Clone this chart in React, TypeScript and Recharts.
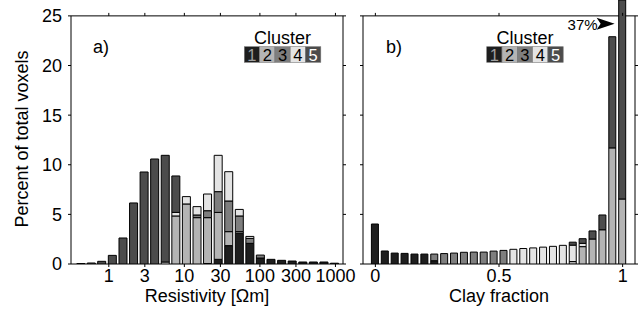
import { BarChart, Bar, XAxis, YAxis, ReferenceArea, ReferenceLine, ReferenceDot } from "recharts";

const FONT = "'Liberation Sans', Arial, Helvetica, sans-serif";

const clusterNames = ["1", "2", "3", "4", "5"];
const clusterColors = ["#1e1e1e", "#b4b4b4", "#7e7e7e", "#e4e4e4", "#4c4c4c"];
const clusterInk = ["#a0a0a0", "#000", "#000", "#000", "#fff"];

const yTicks = [0, 5, 10, 15, 20, 25];

// a) resistivity bins, bin centres in ohm m (log spaced)
const ohmBins = [0.43, 0.59, 0.81, 1.12, 1.55, 2.14, 2.95, 4.07, 5.62, 7.76, 10.7, 14.8, 20.4, 28.2, 38.9, 53.7, 74.1, 102, 141, 195, 269, 372, 513, 708, 977];
const ohmTicks = [1, 3, 10, 30, 100, 300, 1000];
const ohmC1 = [0, 0, 0, 0, 0, 0, 0, 0, 0, 0, 0, 0, 0.05, 0.47, 1.85, 3.1, 2.08, 0.6, 0.47, 0.37, 0.3, 0.2, 0.2, 0.2, 0.08];
const ohmC2 = [0, 0, 0, 0, 0, 0, 0, 0, 0, 4.84, 6.05, 4.67, 4.62, 4.73, 1.41, 0.16, 0, 0, 0, 0, 0, 0, 0, 0, 0];
const ohmC3 = [0, 0, 0, 0, 0, 0, 0, 0, 0, 0, 0, 0.27, 0.7, 2.09, 3.09, 1.58, 0.5, 0.3, 0, 0, 0, 0, 0, 0, 0];
const ohmC4 = [0, 0, 0, 0, 0, 0, 0, 0, 0.2, 0.36, 0.74, 0.84, 1.68, 3.66, 2.95, 0.66, 0.2, 0, 0, 0, 0, 0, 0, 0, 0];
const ohmC5 = [0.05, 0.1, 0.27, 0.87, 2.62, 6.15, 9.27, 10.58, 10.75, 3.67, 0, 0, 0, 0, 0, 0, 0, 0, 0, 0, 0, 0, 0, 0, 0];

// b) clay fraction bins
const clayBins = [0, 0.04, 0.08, 0.12, 0.16, 0.2, 0.24, 0.28, 0.32, 0.36, 0.4, 0.44, 0.48, 0.52, 0.56, 0.6, 0.64, 0.68, 0.72, 0.76, 0.8, 0.84, 0.88, 0.92, 0.96, 1];
const clayTicks = [0, 0.5, 1];
const clayC1 = [4.03, 1.31, 1.1, 1.07, 1.0, 1.0, 0.33, 0, 0, 0, 0, 0, 0, 0, 0, 0, 0, 0, 0, 0, 0, 0, 0, 0, 0, 0];
const clayC2 = [0, 0, 0, 0, 0, 0, 0, 0, 0, 0, 0, 0, 0, 0, 0, 0, 0, 0, 0, 0, 0.25, 1.75, 2.52, 3.45, 11.7, 6.55];
const clayC3 = [0, 0, 0, 0, 0, 0, 0.67, 1.05, 1.1, 1.18, 1.2, 1.2, 1.3, 1.37, 0, 0, 0, 0, 0, 0, 0, 0, 0, 0, 0, 0];
const clayC4 = [0, 0, 0, 0, 0, 0, 0, 0, 0, 0, 0, 0, 0, 0, 1.48, 1.56, 1.62, 1.7, 1.78, 1.88, 1.65, 0.33, 0, 0, 0, 0];
const clayC5 = [0, 0, 0, 0, 0, 0, 0, 0, 0, 0, 0, 0, 0, 0, 0, 0, 0, 0, 0, 0, 0.3, 0.47, 0.81, 1.49, 11.2, 30.45];

const ohmData = ohmBins.map((x, i) => ({ x, c1: ohmC1[i], c2: ohmC2[i], c3: ohmC3[i], c4: ohmC4[i], c5: ohmC5[i] }));
const clayData = clayBins.map((x, i) => ({ x, c1: clayC1[i], c2: clayC2[i], c3: clayC3[i], c4: clayC4[i], c5: clayC5[i] }));

const lastClay = clayData[clayData.length - 1];
const lastTotal = lastClay.c1 + lastClay.c2 + lastClay.c3 + lastClay.c4 + lastClay.c5;

// y range reaches up to the top of the page so the 37% bar runs off the top
const Y_MAX = 26.6;
const tickStyle = { fontSize: 18, fill: "#000", fontFamily: FONT };

function ClusterKey({ x, y }: { x: number; y: number }) {
    const w = 15.3;
    const h = 15.6;
    return (
        <g>
            <text x={x + (w * 5) / 2} y={y - 3} textAnchor="middle" fontSize={18} fontFamily={FONT} fill="#000">
                Cluster
            </text>
            {clusterNames.map((n, i) => (
                <g key={n}>
                    <rect x={x + i * w} y={y} width={w} height={h} fill={clusterColors[i]} stroke="#777" strokeWidth={0.6} />
                    <text x={x + i * w + w / 2} y={y + h - 1.8} textAnchor="middle" fontSize={16.5} fontFamily={FONT} fill={clusterInk[i]}>
                        {n}
                    </text>
                </g>
            ))}
        </g>
    );
}

function ArrowNote(props: any) {
    const { cx, cy } = props;
    if (cx == null || cy == null) return null;
    return (
        <g>
            <polygon points={`${cx - 8},${cy} ${cx - 26},${cy - 6} ${cx - 22},${cy} ${cx - 26},${cy + 6}`} fill="#000" />
            <text x={cx - 25} y={cy + 6.5} textAnchor="end" fontSize={15} fontFamily={FONT} fill="#000">
                {Math.round(lastTotal)}%
            </text>
        </g>
    );
}

function bars() {
    return clusterNames.map((n, i) => (
        <Bar
            key={n}
            dataKey={`c${i + 1}`}
            stackId="s"
            fill={clusterColors[i]}
            stroke="#000"
            strokeWidth={1}
            isAnimationActive={false}
        />
    ));
}

export default function App() {
    return (
        <div style={{ position: "absolute", left: 0, top: 0, width: 639, height: 319, background: "#fff" }}>
            <div style={{ position: "absolute", left: 0, top: 0 }}>
                <BarChart width={360} height={319} data={ohmData} barSize={8} margin={{ top: 0, right: 0, bottom: 0, left: 0 }}>
                    <XAxis
                        dataKey="x"
                        type="number"
                        scale="log"
                        domain={[0.316, 1259]}
                        allowDataOverflow
                        ticks={ohmTicks}
                        interval={0}
                        height={55}
                        axisLine={false}
                        tickLine={{ stroke: "#000" }}
                        tickSize={3}
                        tickMargin={2}
                        tick={tickStyle}
                    />
                    <YAxis
                        yAxisId={0}
                        domain={[0, Y_MAX]}
                        allowDataOverflow
                        ticks={yTicks}
                        interval={0}
                        width={71}
                        axisLine={false}
                        tickLine={{ stroke: "#000" }}
                        tickSize={3}
                        tickMargin={6}
                        tick={tickStyle}
                    />
                    <YAxis
                        yAxisId="r"
                        orientation="right"
                        domain={[0, Y_MAX]}
                        allowDataOverflow
                        ticks={yTicks}
                        interval={0}
                        width={17}
                        axisLine={false}
                        tickLine={{ stroke: "#000" }}
                        tickSize={3}
                        tickFormatter={() => ""}
                    />
                    {bars()}
                    <ReferenceArea y1={0} y2={25} fill="none" stroke="#000" strokeWidth={1} fillOpacity={0} />
                    {ohmTicks.map((t) => (
                        <ReferenceLine key={t} segment={[{ x: t, y: 25 }, { x: t, y: 25.3 }]} stroke="#000" />
                    ))}
                    <ClusterKey x={244.3} y={46.7} />
                    <text x={93} y={53} fontSize={18} fontFamily={FONT} fill="#000">a)</text>
                    <text x={207} y={302} textAnchor="middle" fontSize={18} fontFamily={FONT} fill="#000">
                        Resistivity [Ωm]
                    </text>
                    <text x={28} y={139} textAnchor="middle" transform="rotate(-90 28 139)" fontSize={18} fontFamily={FONT} fill="#000">
                        Percent of total voxels
                    </text>
                </BarChart>
            </div>
            <div style={{ position: "absolute", left: 350, top: 0 }}>
                <BarChart width={289} height={319} data={clayData} barSize={7} margin={{ top: 0, right: 0, bottom: 0, left: 0 }}>
                    <XAxis
                        dataKey="x"
                        type="number"
                        domain={[-0.05, 1.05]}
                        allowDataOverflow
                        ticks={clayTicks}
                        interval={0}
                        height={55}
                        axisLine={false}
                        tickLine={{ stroke: "#000" }}
                        tickSize={3}
                        tickMargin={2}
                        tick={tickStyle}
                    />
                    <YAxis
                        yAxisId={0}
                        domain={[0, Y_MAX]}
                        allowDataOverflow
                        ticks={yTicks}
                        interval={0}
                        width={13}
                        axisLine={false}
                        tickLine={{ stroke: "#000" }}
                        tickSize={3}
                        tickFormatter={() => ""}
                    />
                    <YAxis
                        yAxisId="r"
                        orientation="right"
                        domain={[0, Y_MAX]}
                        allowDataOverflow
                        ticks={yTicks}
                        interval={0}
                        width={4}
                        axisLine={false}
                        tickLine={{ stroke: "#000" }}
                        tickSize={3}
                        tickFormatter={() => ""}
                    />
                    {bars()}
                    <ReferenceArea y1={0} y2={25} fill="none" stroke="#000" strokeWidth={1} fillOpacity={0} />
                    {clayTicks.map((t) => (
                        <ReferenceLine key={t} segment={[{ x: t, y: 25 }, { x: t, y: 25.3 }]} stroke="#000" />
                    ))}
                    <ReferenceDot x={1} y={24.2} r={0} shape={(p: any) => <ArrowNote {...p} />} />
                    <ClusterKey x={136.7} y={46.7} />
                    <text x={36} y={53} fontSize={18} fontFamily={FONT} fill="#000">b)</text>
                    <text x={149} y={302} textAnchor="middle" fontSize={18} fontFamily={FONT} fill="#000">
                        Clay fraction
                    </text>
                </BarChart>
            </div>
        </div>
    );
}
